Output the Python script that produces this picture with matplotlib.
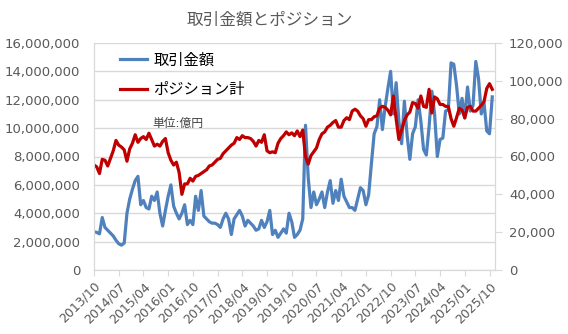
import numpy as np
import matplotlib
matplotlib.use("Agg")
import matplotlib.pyplot as plt
from matplotlib.ticker import FuncFormatter

plt.rcParams['font.family'] = ['DejaVu Sans', 'Noto Sans CJK JP']

# monthly categories 2013/10 .. 2025/11
months = [f"{2013 + (9 + k) // 12}/{(9 + k) % 12 + 1:02d}" for k in range(146)]

# 取引金額 (left axis), in millions
trade_m = [
    2.7, 2.65, 2.55, 3.7, 3.0, 2.8, 2.6, 2.4, 2.1, 1.85,
    1.75, 1.9, 4.0, 5.0, 5.7, 6.3, 6.6, 4.6, 4.9, 4.4,
    4.3, 5.2, 4.9, 5.5, 4.0, 3.1, 4.2, 5.2, 6.0, 4.5,
    4.0, 3.6, 4.0, 4.6, 3.2, 3.5, 3.2, 5.2, 4.2, 5.6,
    3.8, 3.6, 3.4, 3.3, 3.3, 3.2, 3.0, 3.6, 4.0, 3.6,
    2.5, 3.6, 3.9, 4.2, 3.8, 3.1, 3.5, 3.3, 3.1, 2.8,
    2.9, 3.5, 3.0, 3.4, 4.2, 2.5, 2.8, 2.3, 2.6, 2.9,
    2.6, 4.0, 3.4, 2.3, 2.5, 2.8, 3.6, 10.2, 6.5, 4.4,
    5.5, 4.6, 5.0, 5.5, 4.4, 5.5, 6.3, 4.7, 5.6, 4.9,
    6.4, 5.2, 4.8, 4.4, 4.4, 4.2, 5.0, 5.8, 5.6, 4.6,
    5.3, 7.5, 9.6, 10.1, 12.0, 9.9, 11.5, 12.8, 14.0, 11.0,
    13.2, 10.5, 8.9, 11.9, 9.5, 7.8, 9.6, 10.1, 12.0, 10.5,
    8.5, 8.1, 10.1, 12.6, 11.0, 8.0, 9.2, 9.3, 11.2, 11.3,
    14.6, 14.5, 13.0, 11.0, 12.1, 10.7, 12.9, 11.2, 11.6, 14.7,
    13.5, 11.0, 11.8, 9.8, 9.6, 12.2,
]

# ポジション計 (right axis), in thousands
position_k = [
    55.5, 54.5, 51, 58.5, 58, 55, 59, 63, 68.5, 66,
    65, 63.5, 57.5, 64, 67, 71.5, 67.5, 69.5, 70.5, 69,
    72.3, 69, 65.5, 66.5, 65.5, 68, 69.5, 62, 58, 55.5,
    57, 51.5, 40, 45.5, 45.5, 48.5, 47, 49.5, 50, 51,
    52, 53, 55, 55.5, 57, 58.5, 59, 61.5, 63, 64.5,
    66, 67, 70, 69, 71, 70, 70, 69.5, 68, 65.5,
    68.5, 67.5, 71.5, 63, 62, 62.5, 62, 67, 69.5, 71,
    73, 71.5, 72.5, 71, 73.5, 70.5, 74, 60, 56, 60.5,
    62.5, 64.5, 69, 72, 73, 75.5, 76.5, 78, 79, 75.5,
    75.5, 79, 80.5, 79.5, 84, 85, 84, 81.5, 80, 76,
    79.5, 79.5, 81, 81.5, 85.5, 86.5, 86, 84.5, 82, 92,
    80, 69, 74, 79, 82, 83.5, 88.5, 88, 85.5, 92,
    86.5, 86, 95.5, 83, 91.5, 90.5, 87.5, 87.5, 86.5, 86.5,
    80, 76, 80.5, 85.5, 84.5, 80.5, 86, 86.5, 84, 84,
    85.5, 87, 89, 96, 98.5, 95.5,
]

trade = np.array(trade_m) * 1e6
position = np.array(position_k) * 1e3
x = np.arange(len(months))

gray = '#595959'
grid_c = '#d9d9d9'

fig = plt.figure(figsize=(5.68, 3.34), dpi=100)
ax1 = fig.add_axes([94 / 568, 1 - 270 / 334, 401 / 568, 227 / 334])
ax2 = ax1.twinx()

l1, = ax1.plot(x, trade, color='#4f81bd', linewidth=2.3, label='取引金額')
l2, = ax2.plot(x, position, color='#c00000', linewidth=2.3, label='ポジション計')

ax1.set_xlim(0, 146)
ax1.set_ylim(0, 16000000)
ax1.set_yticks(np.arange(0, 16000001, 2000000))
ax2.set_ylim(0, 120000)
ax2.set_yticks(np.arange(0, 120001, 20000))

fmt = FuncFormatter(lambda v, p: f"{int(v):,}")
ax1.yaxis.set_major_formatter(fmt)
ax2.yaxis.set_major_formatter(fmt)

ticks = list(range(0, 146, 9))
ax1.set_xticks(ticks)
ax1.set_xticklabels([months[i] for i in ticks], rotation=45, ha='right',
                    rotation_mode='anchor', fontsize=9, color=gray)

ax1.grid(axis='y', color=grid_c, linewidth=1)
ax1.set_axisbelow(True)
ax1.tick_params(axis='y', length=0, labelsize=9.5, labelcolor=gray, pad=10)
ax1.tick_params(axis='x', length=4, color=grid_c, pad=3)
ax2.tick_params(axis='y', length=5, color=grid_c, labelsize=9.5, labelcolor=gray, pad=5)

for ax in (ax1, ax2):
    ax.spines['top'].set_visible(False)
    for s in ('left', 'right', 'bottom'):
        ax.spines[s].set_color(grid_c)

fig.text(270 / 568, 1 - 20 / 334, '取引金額とポジション', ha='center', va='center',
         fontsize=12, color=gray)

fig.legend(handles=[l1, l2], loc='upper left', bbox_to_anchor=(106 / 568, 1 - 39 / 334),
           frameon=False, fontsize=11, handlelength=1.8, labelspacing=0.95,
           handletextpad=0.4)

fig.text(178 / 568, 1 - 123 / 334, '単位:億円', ha='center', va='center',
         fontsize=8.5, color='#404040')

fig.savefig('out.png', dpi=100)
